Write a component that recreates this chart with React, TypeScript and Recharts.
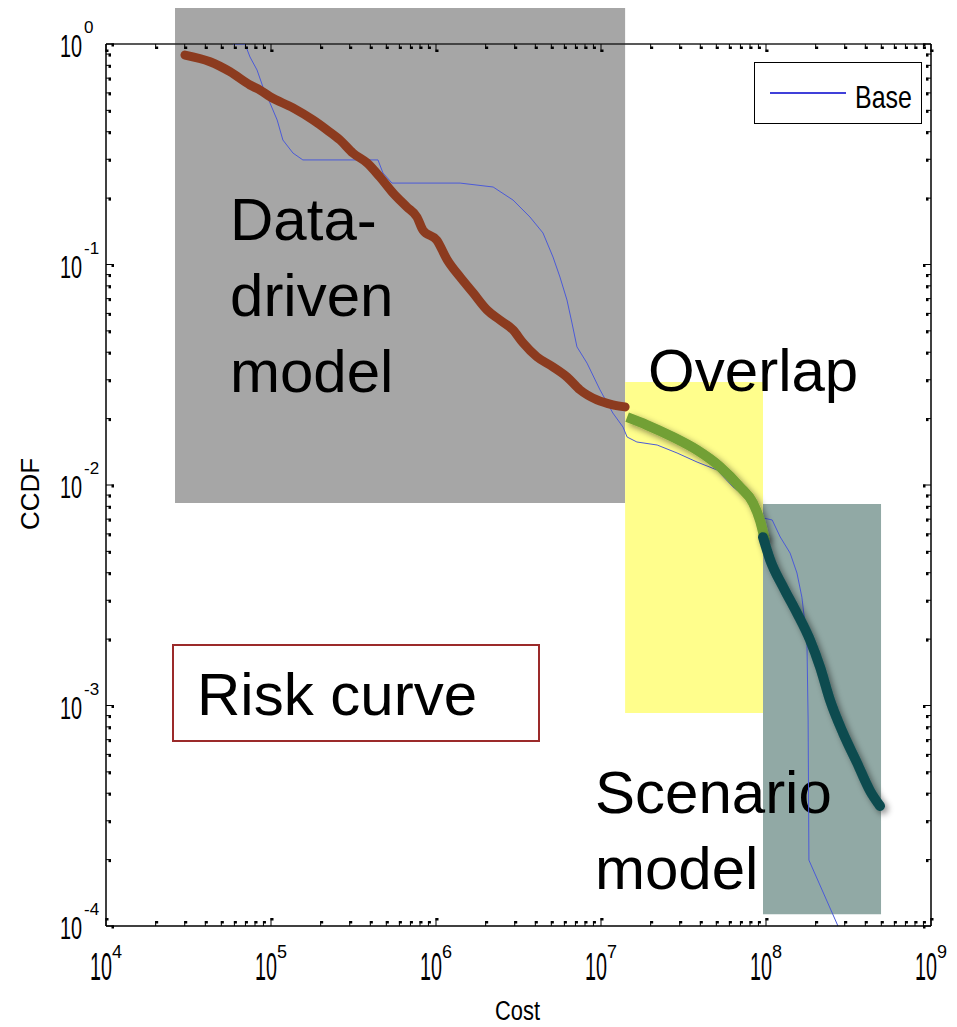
import {
  ComposedChart,
  Customized,
  Legend,
  Line,
  ReferenceArea,
  ReferenceLine,
  XAxis,
  YAxis,
} from 'recharts'

// ---- data (cost in $, CCDF) ----
const baseCost = [
  5.88e4, 6.96e4, 7.46e4, 8.23e4, 8.94e4, 9.86e4, 1.09e5, 1.18e5, 1.36e5, 1.56e5, 4.45e5, 4.77e5,
  5.41e5, 1.4e6, 2.22e6, 2.93e6, 3.71e6, 4.45e6, 5.12e6, 5.64e6, 6.22e6, 6.67e6, 7.15e6, 8.23e6,
  9.86e6, 1.18e7, 1.36e7, 1.44e7, 1.65e7, 2.19e7, 2.89e7, 3.82e7, 5.05e7, 6.31e7, 8.34e7, 9.59e7,
  1.09e8, 1.22e8, 1.4e8, 1.54e8, 1.65e8, 1.77e8, 1.8e8, 1.82e8, 2.73e8,
]
const baseCcdf = [
  1, 1, 0.873, 0.762, 0.638, 0.54, 0.452, 0.367, 0.32, 0.298, 0.298, 0.26, 0.234, 0.234, 0.2246,
  0.196, 0.1642, 0.139, 0.1081, 0.0877, 0.069, 0.0543, 0.0423, 0.0357, 0.027, 0.0212, 0.0183,
  0.0165, 0.01567, 0.01518, 0.01397, 0.01271, 0.0117, 0.0098, 0.00829, 0.00709, 0.00694, 0.00581,
  0.00491, 0.00399, 0.0031, 0.00198, 0.00086, 0.000199, 0.0001,
]

// data-driven part of the risk curve
const dataCost = [
  3.01e4, 4.27e4, 5.64e4, 7.46e4, 8.58e4, 9.86e4, 1.36e5, 1.8e5, 2.19e5, 2.62e5, 3.14e5, 3.82e5,
  4.58e5, 5.49e5, 6.67e5, 7.67e5, 8.34e5, 1.01e6, 1.17e6, 1.4e6, 1.68e6, 2.04e6, 2.44e6, 2.93e6,
  3.37e6, 4.09e6, 5.12e6, 6.22e6, 7.46e6, 9.46e6, 1.18e7, 1.4e7,
]
const dataCcdf = [
  0.891, 0.831, 0.749, 0.652, 0.618, 0.577, 0.513, 0.452, 0.407, 0.367, 0.32, 0.289, 0.249, 0.211,
  0.182, 0.164, 0.143, 0.129, 0.105, 0.0877, 0.0743, 0.0622, 0.056, 0.0505, 0.0441, 0.0381, 0.0343,
  0.0309, 0.027, 0.0243, 0.0231, 0.0226,
]

// overlap part
const overlapCost = [1.44e7, 1.9e7, 2.73e7, 3.82e7, 5.26e7, 6.96e7, 8.34e7, 9.2e7, 9.86e7]
const overlapCcdf = [0.0203, 0.0187, 0.0165, 0.0144, 0.0121, 0.0098, 0.0083, 0.0069, 0.0056]

// scenario part
const scenarioCost = [9.59e7, 1.06e8, 1.27e8, 1.54e8, 1.85e8, 2.13e8, 2.44e8, 2.93e8, 3.56e8, 4.27e8, 4.91e8]
const scenarioCcdf = [0.0058, 0.00457, 0.00345, 0.00263, 0.00198, 0.00149, 0.00106, 0.00075, 0.00055, 0.00041, 0.00035]

// shaded regions: [x1, x2, y1, y2]
const dataRegion = [2.62e4, 1.4e7, 0.00829, 1.457]
const overlapRegion = [1.4e7, 9.59e7, 0.000925, 0.0293]
const scenarioRegion = [9.59e7, 4.98e8, 0.000113, 0.0082]

const dataLabel = ['Data-', 'driven', 'model']
const overlapLabel = ['Overlap']
const scenarioLabel = ['Scenario', 'model']

// axis decades
const xDecades = [4, 5, 6, 7, 8, 9]
const yDecades = [-4, -3, -2, -1, 0]
const minorSteps = [1, 2, 3, 4, 5, 6, 7, 8, 9]

const CHART_W = 957
const CHART_H = 1027
const MARGIN = { top: 44, right: 26, bottom: 41, left: 36 }
const Y_AXIS_W = 70
const X_AXIS_H = 60
const PLOT_W = CHART_W - MARGIN.left - MARGIN.right - Y_AXIS_W
const PLOT_H = CHART_H - MARGIN.top - MARGIN.bottom - X_AXIS_H
const PLOT_LEFT = MARGIN.left + Y_AXIS_W

const toPoints = (xs: number[], ys: number[]) => xs.map((cost, i) => ({ cost, ccdf: ys[i] }))

const withMinors = (decades: number[]) => {
  const out: number[] = []
  decades.forEach((d, i) => {
    if (i === decades.length - 1) out.push(10 ** d)
    else minorSteps.forEach((m) => out.push(Number((m * 10 ** d).toPrecision(6))))
  })
  return out
}

const xTicks = withMinors(xDecades)
const yTicks = withMinors(yDecades)

const isMajor = (v: number) => {
  const l = Math.log10(v)
  return Math.abs(l - Math.round(l)) < 1e-6
}

const LABEL_FONT = '"Liberation Sans", Arial, sans-serif'

function XTick(props: any) {
  const { x, y, payload } = props
  const v = payload.value
  const major = isMajor(v)
  const len = major ? 8 : 5
  const top = y - PLOT_H
  const exp = Math.round(Math.log10(v))
  return (
    <g>
      <line x1={x} x2={x} y1={y} y2={y - len} stroke="#000" strokeWidth={1} />
      <rect x={x - 0.5} y={y - len} width={3} height={2.5} fill="#000" />
      <line x1={x} x2={x} y1={top} y2={top + len} stroke="#000" strokeWidth={1} />
      <rect x={x - 0.5} y={top + len - 2.5} width={3} height={2.5} fill="#000" />
      {major && (
        <g fontFamily={LABEL_FONT} fill="#000">
          <text transform={`translate(${x - 5},${y + 54}) scale(0.52,1)`} textAnchor="middle" fontSize={38}>
            10
          </text>
          <text x={x + 6} y={y + 32} fontSize={18}>
            {exp}
          </text>
        </g>
      )}
    </g>
  )
}

function YTick(props: any) {
  const { x, y, payload } = props
  const v = payload.value
  const major = isMajor(v)
  const len = major ? 8 : 5
  const right = x + PLOT_W
  const exp = Math.round(Math.log10(v))
  return (
    <g>
      <line x1={x} x2={x + len} y1={y} y2={y} stroke="#000" strokeWidth={1} />
      <rect x={x + len - 2.5} y={y - 0.5} width={2.5} height={3} fill="#000" />
      <line x1={right} x2={right - len} y1={y} y2={y} stroke="#000" strokeWidth={1} />
      <rect x={right - len} y={y - 0.5} width={2.5} height={3} fill="#000" />
      {major && (
        <g fontFamily={LABEL_FONT} fill="#000">
          <text transform={`translate(${x - 46},${y + 13}) scale(0.64,1)`} fontSize={31}>
            10
          </text>
          <text x={x - 22} y={y - 11} fontSize={17}>
            {exp}
          </text>
        </g>
      )}
    </g>
  )
}

// big multi-line caption placed relative to the region it belongs to
function RegionText(props: any) {
  const { viewBox, lines, dx, dy } = props
  return (
    <g>
      {lines.map((t: string, i: number) => (
        <text
          key={t + i}
          x={viewBox.x + dx}
          y={viewBox.y + dy + i * 76}
          fontFamily={LABEL_FONT}
          fontSize={60}
          fill="#000"
        >
          {t}
        </text>
      ))}
    </g>
  )
}

function XLabel() {
  const cx = PLOT_LEFT + PLOT_W / 2 - 1
  return (
    <text
      transform={`translate(${cx},${CHART_H - 7}) scale(0.78,1)`}
      textAnchor="middle"
      fontFamily={LABEL_FONT}
      fontSize={28}
      fill="#000"
    >
      Cost
    </text>
  )
}

function YLabel() {
  const cy = MARGIN.top + PLOT_H / 2 + 9
  return (
    <text
      transform={`translate(${MARGIN.left + 3},${cy}) rotate(-90)`}
      textAnchor="middle"
      fontFamily={LABEL_FONT}
      fontSize={26}
      fill="#000"
    >
      CCDF
    </text>
  )
}

function RiskCurveBox() {
  return (
    <g>
      <rect x={173} y={645} width={366} height={96} fill="#fff" stroke="#9b2a2a" strokeWidth={2} />
      <text x={197} y={715} fontFamily={LABEL_FONT} fontSize={60} fill="#000">
        Risk curve
      </text>
    </g>
  )
}

function LegendBox() {
  return (
    <div style={{ width: 166, height: 60, border: '1.5px solid #000', background: '#fff' }}>
      <svg width={166} height={60}>
        <line x1={15} x2={91} y1={30} y2={30} stroke="#0000cc" strokeWidth={1.5} />
        <text
          transform="translate(100,45) scale(0.78,1)"
          fontFamily={LABEL_FONT}
          fontSize={32}
          fill="#000"
        >
          Base
        </text>
      </svg>
    </div>
  )
}

export default function App() {
  return (
    <div style={{ position: 'absolute', left: 0, top: 0, background: '#fff' }}>
      <ComposedChart width={CHART_W} height={CHART_H} margin={MARGIN}>
        <defs>
          <filter id="curveShadow" x="-20%" y="-20%" width="140%" height="140%">
            <feDropShadow dx={3} dy={3} stdDeviation={3} floodColor="#000" floodOpacity={0.45} />
          </filter>
        </defs>
        <XAxis
          type="number"
          dataKey="cost"
          scale="log"
          domain={[1e4, 1e9]}
          allowDataOverflow
          ticks={xTicks}
          interval={0}
          tickSize={0}
          tickMargin={0}
          tick={<XTick />}
          height={X_AXIS_H}
          axisLine={{ stroke: '#000', strokeWidth: 1.5 }}
          tickLine={false}
          label={<XLabel />}
        />
        <YAxis
          type="number"
          dataKey="ccdf"
          scale="log"
          domain={[1e-4, 1]}
          allowDataOverflow
          ticks={yTicks}
          interval={0}
          tickSize={0}
          tickMargin={0}
          tick={<YTick />}
          width={Y_AXIS_W}
          axisLine={{ stroke: '#000', strokeWidth: 1.5 }}
          tickLine={false}
          label={<YLabel />}
        />
        <ReferenceArea
          x1={dataRegion[0]}
          x2={dataRegion[1]}
          y1={dataRegion[2]}
          y2={dataRegion[3]}
          fill="#a6a6a6"
          fillOpacity={1}
          ifOverflow="visible"
          label={<RegionText lines={dataLabel} dx={55} dy={232} />}
        />
        <ReferenceArea
          x1={overlapRegion[0]}
          x2={overlapRegion[1]}
          y1={overlapRegion[2]}
          y2={overlapRegion[3]}
          fill="#fffe8c"
          fillOpacity={1}
          ifOverflow="visible"
          label={<RegionText lines={overlapLabel} dx={23} dy={9} />}
        />
        <ReferenceArea
          x1={scenarioRegion[0]}
          x2={scenarioRegion[1]}
          y1={scenarioRegion[2]}
          y2={scenarioRegion[3]}
          fill="#91a9a5"
          fillOpacity={1}
          ifOverflow="visible"
          label={<RegionText lines={scenarioLabel} dx={-168} dy={309} />}
        />
        <ReferenceLine y={1} stroke="#222" strokeWidth={1.5} />
        <ReferenceLine x={1e9} stroke="#000" strokeWidth={1.5} />
        <Line
          data={toPoints(baseCost, baseCcdf)}
          dataKey="ccdf"
          name="Base"
          type="linear"
          stroke="#4b5ad8"
          strokeWidth={1}
          dot={false}
          isAnimationActive={false}
        />
        <Line
          data={toPoints(dataCost, dataCcdf)}
          dataKey="ccdf"
          name="Data-driven"
          type="monotone"
          stroke="#8c3b1f"
          strokeWidth={9}
          strokeLinecap="round"
          dot={false}
          legendType="none"
          isAnimationActive={false}
        />
        <Line
          data={toPoints(overlapCost, overlapCcdf)}
          dataKey="ccdf"
          name="Overlap"
          type="monotone"
          stroke="#72a034"
          strokeWidth={10}
          dot={false}
          legendType="none"
          filter="url(#curveShadow)"
          isAnimationActive={false}
        />
        <Line
          data={toPoints(scenarioCost, scenarioCcdf)}
          dataKey="ccdf"
          name="Scenario"
          type="monotone"
          stroke="#0b4c50"
          strokeWidth={10}
          strokeLinecap="round"
          dot={false}
          legendType="none"
          filter="url(#curveShadow)"
          isAnimationActive={false}
        />
        <Customized component={RiskCurveBox} />
        <Legend
          layout="horizontal"
          verticalAlign="middle"
          align="center"
          content={() => <LegendBox />}
          wrapperStyle={{ position: 'absolute', left: 754, top: 62, width: 169, height: 63 }}
        />
      </ComposedChart>
    </div>
  )
}
